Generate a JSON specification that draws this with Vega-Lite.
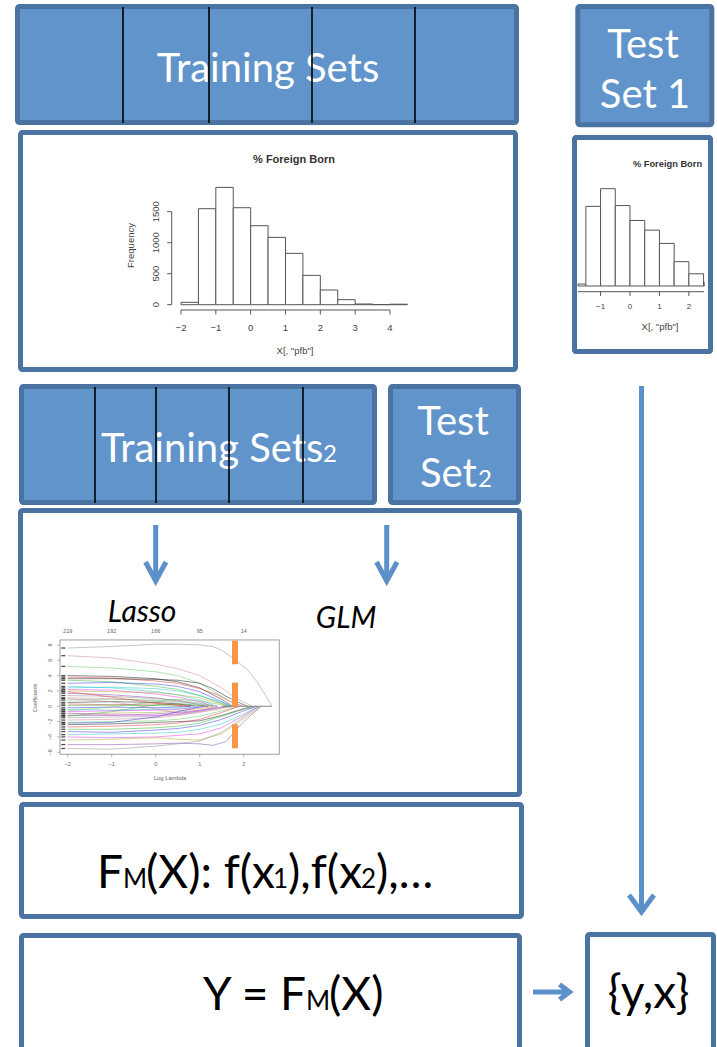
{
  "$schema": "https://vega.github.io/schema/vega-lite/v6.json",
  "width": 717,
  "height": 1047,
  "autosize": {"type": "none"},
  "padding": 0,
  "background": "white",
  "config": {"view": {"stroke": null}},
  "datasets": {
    "pfb": [
      {"bin_start": -2, "bin_end": -1.5, "count": 38},
      {"bin_start": -1.5, "bin_end": -1, "count": 1548},
      {"bin_start": -1, "bin_end": -0.5, "count": 1892},
      {"bin_start": -0.5, "bin_end": 0, "count": 1564},
      {"bin_start": 0, "bin_end": 0.5, "count": 1274},
      {"bin_start": 0.5, "bin_end": 1, "count": 1086},
      {"bin_start": 1, "bin_end": 1.5, "count": 828},
      {"bin_start": 1.5, "bin_end": 2, "count": 473},
      {"bin_start": 2, "bin_end": 2.5, "count": 237},
      {"bin_start": 2.5, "bin_end": 3, "count": 81},
      {"bin_start": 3, "bin_end": 3.5, "count": 11},
      {"bin_start": 3.5, "bin_end": 4, "count": 2},
      {"bin_start": 4, "bin_end": 4.5, "count": 8}
    ],
    "paths": [
      {"id":1,"lambda":-2,"coef":7.6},{"id":1,"lambda":-1,"coef":7.8},{"id":1,"lambda":0,"coef":8.1},{"id":1,"lambda":0.5,"coef":8.1},{"id":1,"lambda":1,"coef":8.0},{"id":1,"lambda":1.3,"coef":7.8},{"id":1,"lambda":1.5,"coef":7.3},{"id":1,"lambda":1.8,"coef":6.1},{"id":1,"lambda":2.1,"coef":4.7},{"id":1,"lambda":2.3,"coef":3.2},{"id":1,"lambda":2.5,"coef":1.4},{"id":1,"lambda":2.64,"coef":0},
      {"id":2,"lambda":-2,"coef":6.6},{"id":2,"lambda":-1,"coef":6.3},{"id":2,"lambda":0,"coef":5.5},{"id":2,"lambda":0.5,"coef":4.9},{"id":2,"lambda":1,"coef":4.0},{"id":2,"lambda":1.5,"coef":2.4},{"id":2,"lambda":1.8,"coef":1.1},{"id":2,"lambda":2.2,"coef":0},
      {"id":3,"lambda":-2,"coef":5.2},{"id":3,"lambda":-1,"coef":5.0},{"id":3,"lambda":0,"coef":4.5},{"id":3,"lambda":0.5,"coef":4.0},{"id":3,"lambda":1,"coef":3.0},{"id":3,"lambda":1.5,"coef":1.3},{"id":3,"lambda":1.9,"coef":0},
      {"id":4,"lambda":-2,"coef":4.0},{"id":4,"lambda":-1,"coef":3.9},{"id":4,"lambda":0,"coef":3.6},{"id":4,"lambda":0.5,"coef":3.2},{"id":4,"lambda":1,"coef":2.4},{"id":4,"lambda":1.5,"coef":0.9},{"id":4,"lambda":1.75,"coef":0},
      {"id":5,"lambda":-2,"coef":3.8},{"id":5,"lambda":-1,"coef":3.7},{"id":5,"lambda":0,"coef":3.3},{"id":5,"lambda":0.5,"coef":3.0},{"id":5,"lambda":1,"coef":2.3},{"id":5,"lambda":1.4,"coef":1.5},{"id":5,"lambda":1.7,"coef":0.6},{"id":5,"lambda":2.0,"coef":0},
      {"id":6,"lambda":-2,"coef":3.4},{"id":6,"lambda":-1,"coef":3.2},{"id":6,"lambda":0,"coef":2.6},{"id":6,"lambda":0.5,"coef":2.2},{"id":6,"lambda":1,"coef":1.4},{"id":6,"lambda":1.5,"coef":0.4},{"id":6,"lambda":1.65,"coef":0},
      {"id":7,"lambda":-2,"coef":3.0},{"id":7,"lambda":-1,"coef":3.1},{"id":7,"lambda":0,"coef":2.9},{"id":7,"lambda":0.5,"coef":2.6},{"id":7,"lambda":1,"coef":1.9},{"id":7,"lambda":1.5,"coef":0.6},{"id":7,"lambda":1.7,"coef":0},
      {"id":8,"lambda":-2,"coef":2.6},{"id":8,"lambda":-1,"coef":2.4},{"id":8,"lambda":0,"coef":1.9},{"id":8,"lambda":0.5,"coef":1.5},{"id":8,"lambda":1,"coef":0.8},{"id":8,"lambda":1.4,"coef":0},
      {"id":9,"lambda":-2,"coef":2.2},{"id":9,"lambda":-1,"coef":2.1},{"id":9,"lambda":0,"coef":1.6},{"id":9,"lambda":0.5,"coef":1.2},{"id":9,"lambda":1,"coef":0.6},{"id":9,"lambda":1.3,"coef":0},
      {"id":10,"lambda":-2,"coef":2.0},{"id":10,"lambda":-1,"coef":1.9},{"id":10,"lambda":0,"coef":1.8},{"id":10,"lambda":0.5,"coef":1.5},{"id":10,"lambda":1,"coef":1.1},{"id":10,"lambda":1.5,"coef":0.3},{"id":10,"lambda":1.6,"coef":0},
      {"id":11,"lambda":-2,"coef":1.7},{"id":11,"lambda":-1,"coef":1.5},{"id":11,"lambda":0,"coef":1.1},{"id":11,"lambda":0.5,"coef":0.7},{"id":11,"lambda":1,"coef":0.2},{"id":11,"lambda":1.2,"coef":0},
      {"id":12,"lambda":-2,"coef":1.4},{"id":12,"lambda":-1,"coef":1.3},{"id":12,"lambda":0,"coef":1.0},{"id":12,"lambda":0.5,"coef":0.8},{"id":12,"lambda":1,"coef":0.4},{"id":12,"lambda":1.4,"coef":0},
      {"id":13,"lambda":-2,"coef":1.1},{"id":13,"lambda":-1,"coef":1.0},{"id":13,"lambda":0,"coef":0.7},{"id":13,"lambda":0.5,"coef":0.4},{"id":13,"lambda":1,"coef":0.1},{"id":13,"lambda":1.1,"coef":0},
      {"id":14,"lambda":-2,"coef":0.8},{"id":14,"lambda":-1,"coef":0.9},{"id":14,"lambda":0,"coef":0.8},{"id":14,"lambda":0.5,"coef":0.6},{"id":14,"lambda":1,"coef":0.3},{"id":14,"lambda":1.3,"coef":0},
      {"id":15,"lambda":-2,"coef":0.5},{"id":15,"lambda":-1,"coef":0.6},{"id":15,"lambda":0,"coef":0.5},{"id":15,"lambda":0.5,"coef":0.3},{"id":15,"lambda":0.9,"coef":0},
      {"id":16,"lambda":-2,"coef":0.3},{"id":16,"lambda":-1,"coef":0.2},{"id":16,"lambda":0,"coef":0.3},{"id":16,"lambda":0.5,"coef":0.2},{"id":16,"lambda":0.8,"coef":0},
      {"id":17,"lambda":-2,"coef":0.1},{"id":17,"lambda":-1,"coef":0.15},{"id":17,"lambda":0,"coef":0.1},{"id":17,"lambda":0.6,"coef":0},
      {"id":18,"lambda":-2,"coef":-0.2},{"id":18,"lambda":-1,"coef":-0.1},{"id":18,"lambda":0,"coef":-0.2},{"id":18,"lambda":0.5,"coef":-0.1},{"id":18,"lambda":0.8,"coef":0},
      {"id":19,"lambda":-2,"coef":-0.4},{"id":19,"lambda":-1,"coef":-0.5},{"id":19,"lambda":0,"coef":-0.4},{"id":19,"lambda":0.5,"coef":-0.3},{"id":19,"lambda":1,"coef":0},
      {"id":20,"lambda":-2,"coef":-0.7},{"id":20,"lambda":-1,"coef":-0.6},{"id":20,"lambda":0,"coef":-0.5},{"id":20,"lambda":0.5,"coef":-0.4},{"id":20,"lambda":1,"coef":-0.1},{"id":20,"lambda":1.2,"coef":0},
      {"id":21,"lambda":-2,"coef":-1.0},{"id":21,"lambda":-1,"coef":-0.9},{"id":21,"lambda":0,"coef":-0.8},{"id":21,"lambda":0.5,"coef":-0.6},{"id":21,"lambda":1,"coef":-0.3},{"id":21,"lambda":1.3,"coef":0},
      {"id":22,"lambda":-2,"coef":-1.2},{"id":22,"lambda":-1,"coef":-1.2},{"id":22,"lambda":0,"coef":-1.0},{"id":22,"lambda":0.5,"coef":-0.8},{"id":22,"lambda":1,"coef":-0.5},{"id":22,"lambda":1.5,"coef":-0.1},{"id":22,"lambda":1.6,"coef":0},
      {"id":23,"lambda":-2,"coef":-1.5},{"id":23,"lambda":-1,"coef":-1.4},{"id":23,"lambda":0,"coef":-1.3},{"id":23,"lambda":0.5,"coef":-1.1},{"id":23,"lambda":1,"coef":-0.7},{"id":23,"lambda":1.5,"coef":-0.2},{"id":23,"lambda":1.7,"coef":0},
      {"id":24,"lambda":-2,"coef":-1.8},{"id":24,"lambda":-1,"coef":-1.7},{"id":24,"lambda":0,"coef":-1.5},{"id":24,"lambda":0.5,"coef":-1.2},{"id":24,"lambda":1,"coef":-0.8},{"id":24,"lambda":1.5,"coef":-0.3},{"id":24,"lambda":1.8,"coef":0},
      {"id":25,"lambda":-2,"coef":-2.1},{"id":25,"lambda":-1,"coef":-2.0},{"id":25,"lambda":0,"coef":-1.9},{"id":25,"lambda":0.5,"coef":-1.7},{"id":25,"lambda":1,"coef":-1.3},{"id":25,"lambda":1.5,"coef":-0.6},{"id":25,"lambda":1.9,"coef":0},
      {"id":26,"lambda":-2,"coef":-2.4},{"id":26,"lambda":-1,"coef":-2.3},{"id":26,"lambda":0,"coef":-2.1},{"id":26,"lambda":0.5,"coef":-2.0},{"id":26,"lambda":1,"coef":-1.9},{"id":26,"lambda":1.5,"coef":-1.2},{"id":26,"lambda":2.0,"coef":-0.3},{"id":26,"lambda":2.2,"coef":0},
      {"id":27,"lambda":-2,"coef":-2.7},{"id":27,"lambda":-1,"coef":-2.6},{"id":27,"lambda":0,"coef":-2.4},{"id":27,"lambda":0.5,"coef":-2.2},{"id":27,"lambda":1,"coef":-1.7},{"id":27,"lambda":1.5,"coef":-0.8},{"id":27,"lambda":1.9,"coef":0},
      {"id":28,"lambda":-2,"coef":-3.0},{"id":28,"lambda":-1,"coef":-3.0},{"id":28,"lambda":0,"coef":-2.8},{"id":28,"lambda":0.5,"coef":-2.6},{"id":28,"lambda":1,"coef":-2.2},{"id":28,"lambda":1.5,"coef":-1.3},{"id":28,"lambda":2.0,"coef":-0.4},{"id":28,"lambda":2.3,"coef":0},
      {"id":29,"lambda":-2,"coef":-3.3},{"id":29,"lambda":-1,"coef":-3.4},{"id":29,"lambda":0,"coef":-3.1},{"id":29,"lambda":0.5,"coef":-2.9},{"id":29,"lambda":1,"coef":-2.5},{"id":29,"lambda":1.5,"coef":-1.7},{"id":29,"lambda":2.0,"coef":-0.6},{"id":29,"lambda":2.3,"coef":0},
      {"id":30,"lambda":-2,"coef":-3.7},{"id":30,"lambda":-1,"coef":-3.6},{"id":30,"lambda":0,"coef":-3.5},{"id":30,"lambda":0.5,"coef":-3.4},{"id":30,"lambda":1,"coef":-3.0},{"id":30,"lambda":1.5,"coef":-2.3},{"id":30,"lambda":2.0,"coef":-1.0},{"id":30,"lambda":2.35,"coef":0},
      {"id":31,"lambda":-2,"coef":-4.0},{"id":31,"lambda":-1,"coef":-4.1},{"id":31,"lambda":0,"coef":-4.0},{"id":31,"lambda":0.5,"coef":-3.8},{"id":31,"lambda":1,"coef":-3.6},{"id":31,"lambda":1.5,"coef":-2.8},{"id":31,"lambda":2.0,"coef":-1.2},{"id":31,"lambda":2.35,"coef":0},
      {"id":32,"lambda":-2,"coef":-4.4},{"id":32,"lambda":-1,"coef":-4.3},{"id":32,"lambda":0,"coef":-4.1},{"id":32,"lambda":0.5,"coef":-4.3},{"id":32,"lambda":1,"coef":-4.4},{"id":32,"lambda":1.5,"coef":-3.6},{"id":32,"lambda":2.0,"coef":-1.6},{"id":32,"lambda":2.4,"coef":0},
      {"id":33,"lambda":-2,"coef":-5.0},{"id":33,"lambda":-1,"coef":-5.0},{"id":33,"lambda":0,"coef":-4.9},{"id":33,"lambda":0.5,"coef":-4.8},{"id":33,"lambda":1,"coef":-4.9},{"id":33,"lambda":1.3,"coef":-5.1},{"id":33,"lambda":1.6,"coef":-4.6},{"id":33,"lambda":2.0,"coef":-2.0},{"id":33,"lambda":2.4,"coef":0},
      {"id":34,"lambda":-2,"coef":-5.5},{"id":34,"lambda":-1,"coef":-5.6},{"id":34,"lambda":0,"coef":-5.2},{"id":34,"lambda":0.5,"coef":-4.9},{"id":34,"lambda":1,"coef":-4.5},{"id":34,"lambda":1.5,"coef":-3.4},{"id":34,"lambda":2.0,"coef":-1.4},{"id":34,"lambda":2.35,"coef":0},
      {"id":35,"lambda":-2,"coef":1.0},{"id":35,"lambda":-1,"coef":0.6},{"id":35,"lambda":0,"coef":-0.3},{"id":35,"lambda":0.5,"coef":-0.9},{"id":35,"lambda":1,"coef":-0.6},{"id":35,"lambda":1.5,"coef":-0.1},{"id":35,"lambda":1.7,"coef":0},
      {"id":36,"lambda":-2,"coef":-0.6},{"id":36,"lambda":-1,"coef":-0.1},{"id":36,"lambda":0,"coef":0.6},{"id":36,"lambda":0.5,"coef":0.9},{"id":36,"lambda":1,"coef":0.7},{"id":36,"lambda":1.5,"coef":0.2},{"id":36,"lambda":1.7,"coef":0},
      {"id":37,"lambda":-2,"coef":3.6},{"id":37,"lambda":-1,"coef":3.6},{"id":37,"lambda":0,"coef":3.5},{"id":37,"lambda":0.5,"coef":3.4},{"id":37,"lambda":1,"coef":3.0},{"id":37,"lambda":1.3,"coef":2.3},{"id":37,"lambda":1.6,"coef":1.3},{"id":37,"lambda":2.0,"coef":0.2},{"id":37,"lambda":2.1,"coef":0},
      {"id":38,"lambda":-2,"coef":1.9},{"id":38,"lambda":-1,"coef":1.2},{"id":38,"lambda":0,"coef":0.4},{"id":38,"lambda":0.5,"coef":0.1},{"id":38,"lambda":0.7,"coef":0},
      {"id":39,"lambda":-2,"coef":-1.3},{"id":39,"lambda":-1,"coef":-0.7},{"id":39,"lambda":0,"coef":0.2},{"id":39,"lambda":0.5,"coef":0.3},{"id":39,"lambda":1,"coef":0.1},{"id":39,"lambda":1.2,"coef":0},
      {"id":40,"lambda":-2,"coef":-2.2},{"id":40,"lambda":-1,"coef":-2.1},{"id":40,"lambda":0,"coef":-1.4},{"id":40,"lambda":0.5,"coef":-0.7},{"id":40,"lambda":1,"coef":-0.1},{"id":40,"lambda":1.1,"coef":0},
      {"id":41,"lambda":-2,"coef":2.4},{"id":41,"lambda":-1,"coef":2.5},{"id":41,"lambda":0,"coef":2.3},{"id":41,"lambda":0.5,"coef":2.0},{"id":41,"lambda":1,"coef":1.4},{"id":41,"lambda":1.5,"coef":0.5},{"id":41,"lambda":1.75,"coef":0},
      {"id":42,"lambda":-2,"coef":-0.9},{"id":42,"lambda":-1,"coef":-1.1},{"id":42,"lambda":0,"coef":-1.2},{"id":42,"lambda":0.5,"coef":-1.0},{"id":42,"lambda":1,"coef":-0.6},{"id":42,"lambda":1.4,"coef":0}
    ]
  },
  "resolve": {"scale": {"x": "independent", "y": "independent", "color": "independent"}},
  "layer": [
    {
      "layer": [
        {
          "data": {"values": [
            {"box": "Training Sets", "x0": 17.5, "x1": 516.5, "y0": 6.5, "y1": 122.5},
            {"box": "Test Set 1", "x0": 577.8, "x1": 711.8, "y0": 6.5, "y1": 124.8},
            {"box": "Training Sets 2", "x0": 21.5, "x1": 374.5, "y0": 386.5, "y1": 502.5},
            {"box": "Test Set 2", "x0": 390.5, "x1": 518.5, "y0": 386.5, "y1": 502.5}
          ]},
          "mark": {"type": "rect", "fill": "#6194CA", "stroke": "#4A73A2", "strokeWidth": 5, "cornerRadius": 2},
          "encoding": {
            "x": {"field": "x0", "type": "quantitative", "scale": {"domain": [0, 717], "nice": false, "zero": false}, "axis": null},
            "x2": {"field": "x1"},
            "y": {"field": "y0", "type": "quantitative", "scale": {"domain": [0, 1047], "reverse": true, "nice": false, "zero": false}, "axis": null},
            "y2": {"field": "y1"}
          }
        },
        {
          "data": {"values": [
            {"box": "Histogram", "x0": 20.5, "x1": 515.5, "y0": 132.5, "y1": 369.5},
            {"box": "Test histogram", "x0": 574.5, "x1": 710.5, "y0": 137.5, "y1": 351.5},
            {"box": "Models", "x0": 20.5, "x1": 519.5, "y0": 510.5, "y1": 794.5},
            {"box": "FM", "x0": 21.5, "x1": 521.5, "y0": 804.5, "y1": 916.5},
            {"box": "Y", "x0": 21.5, "x1": 519.5, "y0": 935.5, "y1": 1055},
            {"box": "yx", "x0": 587.5, "x1": 713.5, "y0": 934.5, "y1": 1055}
          ]},
          "mark": {"type": "rect", "fill": "white", "stroke": "#4A73A2", "strokeWidth": 5, "cornerRadius": 2},
          "encoding": {
            "x": {"field": "x0", "type": "quantitative", "axis": null},
            "x2": {"field": "x1"},
            "y": {"field": "y0", "type": "quantitative", "axis": null},
            "y2": {"field": "y1"}
          }
        },
        {
          "data": {"values": [
            {"t": "Training Sets", "x0": 268, "y0": 82},
            {"t": "Test", "x0": 643, "y0": 58},
            {"t": "Set 1", "x0": 645, "y0": 108},
            {"t": "Test", "x0": 453, "y0": 435}
          ]},
          "mark": {"type": "text", "font": "Lato", "fontSize": 40, "color": "white", "align": "center", "baseline": "alphabetic"},
          "encoding": {
            "x": {"field": "x0", "type": "quantitative", "axis": null},
            "y": {"field": "y0", "type": "quantitative", "axis": null},
            "text": {"field": "t"}
          }
        },
        {
          "data": {"values": [
            {"t": "Training Sets", "x0": 101, "y0": 462},
            {"t": "Set", "x0": 420, "y0": 487}
          ]},
          "mark": {"type": "text", "font": "Lato", "fontSize": 40, "color": "white", "align": "left", "baseline": "alphabetic"},
          "encoding": {
            "x": {"field": "x0", "type": "quantitative", "axis": null},
            "y": {"field": "y0", "type": "quantitative", "axis": null},
            "text": {"field": "t"}
          }
        },
        {
          "data": {"values": [
            {"t": "2", "x0": 323, "y0": 462},
            {"t": "2", "x0": 478, "y0": 487}
          ]},
          "mark": {"type": "text", "font": "Lato", "fontSize": 24, "color": "white", "align": "left", "baseline": "alphabetic"},
          "encoding": {
            "x": {"field": "x0", "type": "quantitative", "axis": null},
            "y": {"field": "y0", "type": "quantitative", "axis": null},
            "text": {"field": "t"}
          }
        },
        {
          "data": {"values": [
            {"t": "F", "x0": 97, "y0": 888},
            {"t": "(X): f(x", "x0": 146, "y0": 888},
            {"t": "),f(x", "x0": 288, "y0": 888},
            {"t": "),…", "x0": 376, "y0": 888},
            {"t": "Y = F", "x0": 203, "y0": 1010},
            {"t": "(X)", "x0": 329, "y0": 1010}
          ]},
          "mark": {"type": "text", "font": "Lato", "fontSize": 46, "color": "black", "align": "left", "baseline": "alphabetic"},
          "encoding": {
            "x": {"field": "x0", "type": "quantitative", "axis": null},
            "y": {"field": "y0", "type": "quantitative", "axis": null},
            "text": {"field": "t"}
          }
        },
        {
          "data": {"values": [
            {"t": "M", "x0": 123, "y0": 888},
            {"t": "1", "x0": 273, "y0": 888},
            {"t": "2", "x0": 361, "y0": 888},
            {"t": "M", "x0": 306, "y0": 1010}
          ]},
          "mark": {"type": "text", "font": "Lato", "fontSize": 26, "color": "black", "align": "left", "baseline": "alphabetic"},
          "encoding": {
            "x": {"field": "x0", "type": "quantitative", "axis": null},
            "y": {"field": "y0", "type": "quantitative", "axis": null},
            "text": {"field": "t"}
          }
        },
        {
          "data": {"values": [{"t": "{y,x}", "x0": 648.6, "y0": 1008}]},
          "mark": {"type": "text", "font": "Lato", "fontSize": 46, "color": "black", "align": "center", "baseline": "alphabetic"},
          "encoding": {
            "x": {"field": "x0", "type": "quantitative", "axis": null},
            "y": {"field": "y0", "type": "quantitative", "axis": null},
            "text": {"field": "t"}
          }
        },
        {
          "data": {"values": [
            {"t": "Lasso", "x0": 142, "y0": 622},
            {"t": "GLM", "x0": 346, "y0": 628}
          ]},
          "mark": {"type": "text", "font": "Lato", "fontSize": 30, "fontStyle": "italic", "color": "black", "align": "center", "baseline": "alphabetic"},
          "encoding": {
            "x": {"field": "x0", "type": "quantitative", "axis": null},
            "y": {"field": "y0", "type": "quantitative", "axis": null},
            "text": {"field": "t"}
          }
        },
        {
          "data": {"values": [{"t": "% Foreign Born", "x0": 294, "y0": 162.7}]},
          "mark": {"type": "text", "font": "Liberation Sans", "fontSize": 11, "fontWeight": "bold", "color": "#333", "align": "center", "baseline": "alphabetic"},
          "encoding": {
            "x": {"field": "x0", "type": "quantitative", "axis": null},
            "y": {"field": "y0", "type": "quantitative", "axis": null},
            "text": {"field": "t"}
          }
        },
        {
          "data": {"values": [{"t": "% Foreign Born", "x0": 667.5, "y0": 166.7}]},
          "mark": {"type": "text", "font": "Liberation Sans", "fontSize": 9.3, "fontWeight": "bold", "color": "#333", "align": "center", "baseline": "alphabetic"},
          "encoding": {
            "x": {"field": "x0", "type": "quantitative", "axis": null},
            "y": {"field": "y0", "type": "quantitative", "axis": null},
            "text": {"field": "t"}
          }
        },
        {
          "data": {"values": [
            {"t": "X[, \"pfb\"]", "x0": 295, "y0": 351, "s": "big"},
            {"t": "X[, \"pfb\"]", "x0": 660, "y0": 327, "s": "small"}
          ]},
          "mark": {"type": "text", "font": "Liberation Sans", "fontSize": 9.5, "color": "#444", "align": "center", "baseline": "middle"},
          "encoding": {
            "x": {"field": "x0", "type": "quantitative", "axis": null},
            "y": {"field": "y0", "type": "quantitative", "axis": null},
            "text": {"field": "t"}
          }
        },
        {
          "data": {"values": [{"t": "Frequency", "x0": 131, "y0": 245.5}]},
          "mark": {"type": "text", "font": "Liberation Sans", "fontSize": 9.5, "color": "#444", "align": "center", "baseline": "middle", "angle": 270},
          "encoding": {
            "x": {"field": "x0", "type": "quantitative", "axis": null},
            "y": {"field": "y0", "type": "quantitative", "axis": null},
            "text": {"field": "t"}
          }
        },
        {
          "data": {"values": [{"t": "Log Lambda", "x0": 170, "y0": 777.7}]},
          "mark": {"type": "text", "font": "Liberation Sans", "fontSize": 5.8, "color": "#666", "align": "center", "baseline": "middle"},
          "encoding": {
            "x": {"field": "x0", "type": "quantitative", "axis": null},
            "y": {"field": "y0", "type": "quantitative", "axis": null},
            "text": {"field": "t"}
          }
        },
        {
          "data": {"values": [{"t": "Coefficients", "x0": 35, "y0": 697.7}]},
          "mark": {"type": "text", "font": "Liberation Sans", "fontSize": 5.5, "color": "#666", "align": "center", "baseline": "middle", "angle": 270},
          "encoding": {
            "x": {"field": "x0", "type": "quantitative", "axis": null},
            "y": {"field": "y0", "type": "quantitative", "axis": null},
            "text": {"field": "t"}
          }
        },
        {
          "data": {"values": [
            {"x0": 123, "y0": 7, "y1": 123}, {"x0": 209, "y0": 7, "y1": 123},
            {"x0": 312, "y0": 7, "y1": 123}, {"x0": 415, "y0": 7, "y1": 123},
            {"x0": 95, "y0": 387, "y1": 503}, {"x0": 156, "y0": 387, "y1": 503},
            {"x0": 229, "y0": 387, "y1": 503}, {"x0": 303, "y0": 387, "y1": 503}
          ]},
          "mark": {"type": "rule", "color": "black", "strokeWidth": 1.6},
          "encoding": {
            "x": {"field": "x0", "type": "quantitative", "axis": null},
            "y": {"field": "y0", "type": "quantitative", "axis": null},
            "y2": {"field": "y1"}
          }
        },
        {
          "data": {"values": [
            {"arrow": "test to yx", "x0": 641.5, "x1": 641.5, "y0": 386, "y1": 910},
            {"arrow": "lasso", "x0": 155.7, "x1": 155.7, "y0": 525, "y1": 578},
            {"arrow": "glm", "x0": 386.7, "x1": 386.7, "y0": 525, "y1": 578},
            {"arrow": "predict", "x0": 533, "x1": 567, "y0": 992, "y1": 992}
          ]},
          "mark": {"type": "rule", "color": "#5B90CA", "strokeWidth": 5, "strokeCap": "butt"},
          "encoding": {
            "x": {"field": "x0", "type": "quantitative", "axis": null},
            "x2": {"field": "x1"},
            "y": {"field": "y0", "type": "quantitative", "axis": null},
            "y2": {"field": "y1"}
          }
        },
        {
          "data": {"values": [
            {"arrow": "test to yx", "o": 0, "x0": 629, "y0": 895},
            {"arrow": "test to yx", "o": 1, "x0": 641.5, "y0": 912},
            {"arrow": "test to yx", "o": 2, "x0": 654, "y0": 895},
            {"arrow": "lasso", "o": 0, "x0": 145.5, "y0": 562},
            {"arrow": "lasso", "o": 1, "x0": 155.7, "y0": 581},
            {"arrow": "lasso", "o": 2, "x0": 166, "y0": 562},
            {"arrow": "glm", "o": 0, "x0": 376.5, "y0": 562},
            {"arrow": "glm", "o": 1, "x0": 386.7, "y0": 581},
            {"arrow": "glm", "o": 2, "x0": 397, "y0": 562},
            {"arrow": "predict", "o": 0, "x0": 559.5, "y0": 984.5},
            {"arrow": "predict", "o": 1, "x0": 569.5, "y0": 992},
            {"arrow": "predict", "o": 2, "x0": 559.5, "y0": 999.5}
          ]},
          "mark": {"type": "line", "color": "#5B90CA", "strokeWidth": 5, "strokeCap": "butt", "strokeJoin": "miter"},
          "encoding": {
            "x": {"field": "x0", "type": "quantitative", "axis": null},
            "y": {"field": "y0", "type": "quantitative", "axis": null},
            "detail": {"field": "arrow"},
            "order": {"field": "o"}
          }
        }
      ]
    },
    {
      "layer": [
        {
          "data": {"name": "pfb"},
          "mark": {"type": "rect", "fill": "white", "stroke": "#555", "strokeWidth": 1},
          "encoding": {
            "x": {"field": "bin_start", "type": "quantitative", "scale": {"domain": [-7.197, 13.389], "nice": false, "zero": false}, "axis": null},
            "x2": {"field": "bin_end"},
            "y": {"field": "count", "type": "quantitative", "scale": {"domain": [-11973, 4914.5], "nice": false, "zero": false}, "axis": null},
            "y2": {"datum": 0}
          }
        },
        {
          "data": {"values": [
            {"bin_start": -2, "bin_end": 4, "count": -85.5, "count2": -85.5},
            {"bin_start": -2.267, "bin_end": -2.267, "count": 0, "count2": 1500}
          ]},
          "mark": {"type": "rule", "color": "#555", "strokeWidth": 1},
          "encoding": {
            "x": {"field": "bin_start", "type": "quantitative", "axis": null},
            "x2": {"field": "bin_end"},
            "y": {"field": "count", "type": "quantitative", "axis": null},
            "y2": {"field": "count2"}
          }
        },
        {
          "data": {"values": [{"tick": -2}, {"tick": -1}, {"tick": 0}, {"tick": 1}, {"tick": 2}, {"tick": 3}, {"tick": 4}]},
          "layer": [
            {
              "mark": {"type": "rule", "color": "#555", "strokeWidth": 1},
              "encoding": {
                "x": {"field": "tick", "type": "quantitative", "axis": null},
                "y": {"datum": -85.5, "type": "quantitative", "axis": null},
                "y2": {"datum": -158}
              }
            },
            {
              "mark": {"type": "text", "font": "Liberation Sans", "fontSize": 9.5, "color": "#444", "align": "center", "baseline": "middle"},
              "encoding": {
                "x": {"field": "tick", "type": "quantitative", "axis": null},
                "y": {"datum": -371, "type": "quantitative", "axis": null},
                "text": {"field": "tick", "type": "quantitative", "format": "d"}
              }
            }
          ]
        },
        {
          "data": {"values": [{"tick": 0}, {"tick": 500}, {"tick": 1000}, {"tick": 1500}]},
          "layer": [
            {
              "mark": {"type": "rule", "color": "#555", "strokeWidth": 1},
              "encoding": {
                "y": {"field": "tick", "type": "quantitative", "axis": null},
                "x": {"datum": -2.267, "type": "quantitative", "axis": null},
                "x2": {"datum": -2.396}
              }
            },
            {
              "mark": {"type": "text", "font": "Liberation Sans", "fontSize": 9.5, "color": "#444", "align": "center", "baseline": "middle", "angle": 270},
              "encoding": {
                "y": {"field": "tick", "type": "quantitative", "axis": null},
                "x": {"datum": -2.718, "type": "quantitative", "axis": null},
                "text": {"field": "tick", "type": "quantitative", "format": "d"}
              }
            }
          ]
        }
      ]
    },
    {
      "layer": [
        {
          "data": {"name": "pfb"},
          "mark": {"type": "rect", "fill": "white", "stroke": "#555", "strokeWidth": 1},
          "encoding": {
            "x": {"field": "bin_start", "type": "quantitative", "scale": {"domain": [-1.767, 2.514], "range": [578, 704], "clamp": true, "nice": false, "zero": false}, "axis": null},
            "x2": {"field": "bin_end"},
            "y": {"field": "count", "type": "quantitative", "scale": {"domain": [-14797, 5561], "nice": false, "zero": false}, "axis": null},
            "y2": {"datum": 0}
          }
        },
        {
          "data": {"values": [{"bin_start": -1.767, "bin_end": 2.514, "count": -111}]},
          "mark": {"type": "rule", "color": "#555", "strokeWidth": 1},
          "encoding": {
            "x": {"field": "bin_start", "type": "quantitative", "axis": null},
            "x2": {"field": "bin_end"},
            "y": {"field": "count", "type": "quantitative", "axis": null}
          }
        },
        {
          "data": {"values": [{"tick": -1}, {"tick": 0}, {"tick": 1}, {"tick": 2}]},
          "layer": [
            {
              "mark": {"type": "rule", "color": "#555", "strokeWidth": 1},
              "encoding": {
                "x": {"field": "tick", "type": "quantitative", "axis": null},
                "y": {"datum": -111, "type": "quantitative", "axis": null},
                "y2": {"datum": -194}
              }
            },
            {
              "mark": {"type": "text", "font": "Liberation Sans", "fontSize": 8, "color": "#444", "align": "center", "baseline": "middle"},
              "encoding": {
                "x": {"field": "tick", "type": "quantitative", "axis": null},
                "y": {"datum": -402, "type": "quantitative", "axis": null},
                "text": {"field": "tick", "type": "quantitative", "format": "d"}
              }
            }
          ]
        }
      ]
    },
    {
      "layer": [
        {
          "data": {"name": "paths"},
          "mark": {"type": "line", "strokeWidth": 0.9, "opacity": 0.5},
          "encoding": {
            "x": {"field": "lambda", "type": "quantitative", "scale": {"domain": [-3.5386, 12.757], "nice": false, "zero": false}, "axis": null},
            "y": {"field": "coef", "type": "quantitative", "scale": {"domain": [-44.44, 92.12], "nice": false, "zero": false}, "axis": null},
            "color": {"field": "id", "type": "nominal", "legend": null,
                      "scale": {"range": ["#808080", "#C07090", "#4CC04C", "#000000", "#E02020", "#1FAA1F", "#2020E0", "#10C0C0", "#E020E0", "#A0A010", "#7030A0"]}},
            "detail": {"field": "id"}
          }
        },
        {
          "data": {"values": [{"lambda": 1.5, "coef": 0}, {"lambda": 2.64, "coef": 0}]},
          "mark": {"type": "line", "color": "#888", "strokeWidth": 1},
          "encoding": {
            "x": {"field": "lambda", "type": "quantitative", "axis": null},
            "y": {"field": "coef", "type": "quantitative", "axis": null}
          }
        },
        {
          "data": {"name": "paths"},
          "transform": [{"filter": "datum.lambda == -2"}],
          "mark": {"type": "tick", "orient": "horizontal", "color": "#222", "size": 4, "thickness": 1.3, "opacity": 0.8},
          "encoding": {
            "x": {"datum": -2.1, "type": "quantitative", "axis": null},
            "y": {"field": "coef", "type": "quantitative", "axis": null}
          }
        },
        {
          "data": {"values": [
            {"lambda": -2, "df": "219"}, {"lambda": -1, "df": "192"}, {"lambda": 0, "df": "166"},
            {"lambda": 1, "df": "95"}, {"lambda": 2, "df": "14"}
          ]},
          "layer": [
            {
              "mark": {"type": "text", "font": "Liberation Sans", "fontSize": 5.5, "color": "#666", "align": "center", "baseline": "middle"},
              "encoding": {
                "x": {"field": "lambda", "type": "quantitative", "axis": null},
                "y": {"datum": 9.82, "type": "quantitative", "axis": null},
                "text": {"field": "df"}
              }
            },
            {
              "mark": {"type": "rule", "color": "#999", "strokeWidth": 0.7},
              "encoding": {
                "x": {"field": "lambda", "type": "quantitative", "axis": null},
                "y": {"datum": -6.26, "type": "quantitative", "axis": null},
                "y2": {"datum": -6.65}
              }
            },
            {
              "mark": {"type": "text", "font": "Liberation Sans", "fontSize": 5.5, "color": "#666", "align": "center", "baseline": "middle"},
              "encoding": {
                "x": {"field": "lambda", "type": "quantitative", "axis": null},
                "y": {"datum": -7.53, "type": "quantitative", "axis": null},
                "text": {"field": "lambda", "type": "quantitative", "format": "d"}
              }
            }
          ]
        },
        {
          "data": {"values": [{"tick": -6}, {"tick": -4}, {"tick": -2}, {"tick": 0}, {"tick": 2}, {"tick": 4}, {"tick": 6}, {"tick": 8}]},
          "layer": [
            {
              "mark": {"type": "rule", "color": "#999", "strokeWidth": 0.7},
              "encoding": {
                "y": {"field": "tick", "type": "quantitative", "axis": null},
                "x": {"datum": -2.175, "type": "quantitative", "axis": null},
                "x2": {"datum": -2.243}
              }
            },
            {
              "mark": {"type": "text", "font": "Liberation Sans", "fontSize": 5.5, "color": "#666", "align": "center", "baseline": "middle", "angle": 270},
              "encoding": {
                "y": {"field": "tick", "type": "quantitative", "axis": null},
                "x": {"datum": -2.402, "type": "quantitative", "axis": null},
                "text": {"field": "tick", "type": "quantitative", "format": "d"}
              }
            }
          ]
        },
        {
          "data": {"values": [{"lambda": -2.175, "lambda2": 2.81, "coef": -6.26, "coef2": 8.65}]},
          "mark": {"type": "rect", "fill": null, "fillOpacity": 0, "stroke": "#888", "strokeWidth": 0.8},
          "encoding": {
            "x": {"field": "lambda", "type": "quantitative", "axis": null},
            "x2": {"field": "lambda2"},
            "y": {"field": "coef", "type": "quantitative", "axis": null},
            "y2": {"field": "coef2"}
          }
        },
        {
          "data": {"values": [
            {"lambda": 1.734, "lambda2": 1.87, "coef": 8.56, "coef2": 5.48},
            {"lambda": 1.734, "lambda2": 1.87, "coef": 3.08, "coef2": -0.05},
            {"lambda": 1.734, "lambda2": 1.87, "coef": -2.35, "coef2": -5.48}
          ]},
          "mark": {"type": "rect", "fill": "#F79646"},
          "encoding": {
            "x": {"field": "lambda", "type": "quantitative", "axis": null},
            "x2": {"field": "lambda2"},
            "y": {"field": "coef", "type": "quantitative", "axis": null},
            "y2": {"field": "coef2"}
          }
        }
      ]
    },
    {
      "data": {"values": [{"box": "Test histogram", "x0": 574.5, "x1": 710.5, "y0": 137.5, "y1": 351.5}]},
      "mark": {"type": "rect", "fill": null, "fillOpacity": 0, "stroke": "#4A73A2", "strokeWidth": 5, "cornerRadius": 2},
      "encoding": {
        "x": {"field": "x0", "type": "quantitative", "scale": {"domain": [0, 717], "nice": false, "zero": false}, "axis": null},
        "x2": {"field": "x1"},
        "y": {"field": "y0", "type": "quantitative", "scale": {"domain": [0, 1047], "reverse": true, "nice": false, "zero": false}, "axis": null},
        "y2": {"field": "y1"}
      }
    }
  ]
}
